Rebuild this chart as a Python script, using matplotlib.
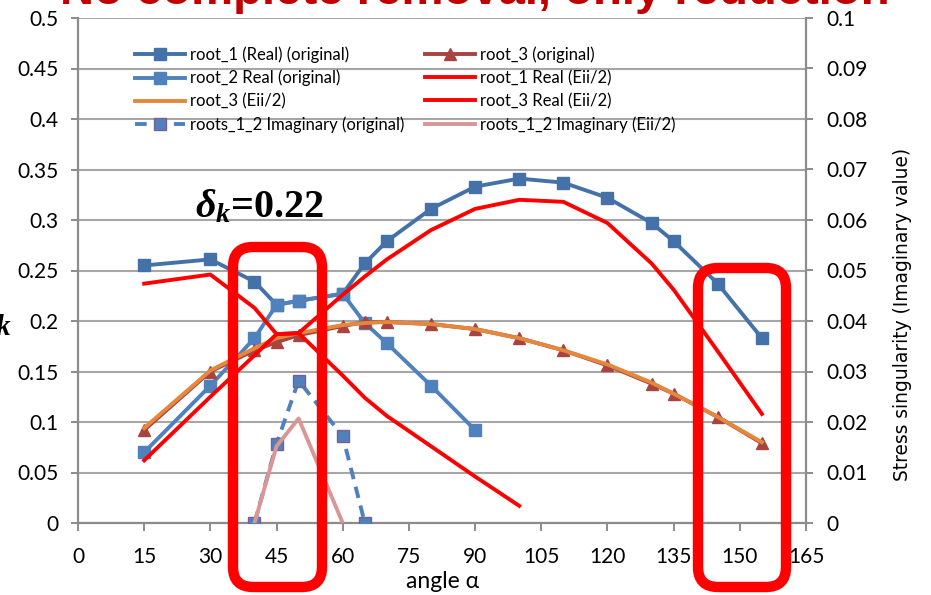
import matplotlib
matplotlib.use('Agg')
import matplotlib.pyplot as plt
from matplotlib.patches import FancyBboxPatch

plt.rcParams['font.family'] = ['Lato', 'DejaVu Sans']
plt.rcParams['mathtext.fontset'] = 'custom'
plt.rcParams['mathtext.it'] = 'Liberation Serif:italic:bold'
plt.rcParams['mathtext.rm'] = 'Liberation Serif:bold'
plt.rcParams['mathtext.bf'] = 'Liberation Serif:bold'

# ---------------- data ----------------
angles = [15, 30, 40, 45, 50, 60, 65, 70, 80, 90, 100, 110, 120, 130, 135, 145, 155]
root1_orig = [0.255, 0.261, 0.239, 0.216, 0.220, 0.227, 0.257, 0.279, 0.311, 0.333,
              0.341, 0.337, 0.322, 0.297, 0.279, 0.237, 0.183]
angles_r2 = [15, 30, 40, 45, 50, 60, 65, 70, 80, 90]
root2_orig = [0.070, 0.136, 0.183, 0.216, 0.220, 0.227, 0.198, 0.178, 0.136, 0.092]
root3_orig = [0.092, 0.150, 0.171, 0.179, 0.186, 0.195, 0.199, 0.199, 0.197, 0.192,
              0.183, 0.171, 0.156, 0.138, 0.128, 0.105, 0.079]
root3_eii = [0.094, 0.151, 0.173, 0.183, 0.188, 0.196, 0.198, 0.199, 0.197, 0.192,
             0.183, 0.171, 0.157, 0.139, 0.128, 0.105, 0.080]
root1_real_eii = [0.237, 0.246, 0.213, 0.187, 0.188, 0.226, 0.244, 0.261, 0.290, 0.311,
                  0.320, 0.318, 0.297, 0.257, 0.231, 0.170, 0.108]
angles_r3r = [15, 30, 40, 45, 50, 60, 65, 70, 80, 90, 100]
root3_real_eii = [0.062, 0.125, 0.166, 0.187, 0.188, 0.146, 0.124, 0.106, 0.076, 0.046, 0.017]
angles_im = [40, 45, 50, 60, 65]
imag_orig = [0.0, 0.0157, 0.0282, 0.0172, 0.0]
angles_im_eii = [40, 45, 50, 60]
imag_eii = [0.0, 0.0152, 0.0207, 0.0]

xticks = [0, 15, 30, 45, 60, 75, 90, 105, 120, 135, 150, 165]
yticks_left = [0, 0.05, 0.1, 0.15, 0.2, 0.25, 0.3, 0.35, 0.4, 0.45, 0.5]
ylabels_left = ['0', '0.05', '0.1', '0.15', '0.2', '0.25', '0.3', '0.35', '0.4', '0.45', '0.5']
yticks_right = [0, 0.01, 0.02, 0.03, 0.04, 0.05, 0.06, 0.07, 0.08, 0.09, 0.1]
ylabels_right = ['0', '0.01', '0.02', '0.03', '0.04', '0.05', '0.06', '0.07', '0.08', '0.09', '0.1']

title = 'No complete removal, only reduction'
annot = r'$\delta_k$=0.22'
xlabel = 'angle α'
ylabel_right = 'Stress singularity (Imaginary value)'

# ---------------- figure ----------------
W, H = 931, 595
fig = plt.figure(figsize=(W / 100, H / 100), dpi=100)
ax = fig.add_axes([78 / W, 1 - 523 / H, (806 - 78) / W, (523 - 18) / H])
ax2 = ax.twinx()

gray = '#8C8C8C'
c_r1 = '#4472A8'
c_r2 = '#4F81BD'
c_r3 = '#A9433F'
c_or = '#E6883C'
c_red = '#FF0000'
c_pink = '#D99694'
lw = 2.8

l1, = ax.plot(angles, root1_orig, color=c_r1, lw=lw, marker='s', ms=8.5, mec=c_r1,
              label='root_1 (Real) (original)', zorder=3)
l2, = ax.plot(angles_r2, root2_orig, color=c_r2, lw=lw, marker='s', ms=8.5, mec=c_r2,
              label='root_2 Real (original)', zorder=3)
l3, = ax.plot(angles, root3_orig, color=c_r3, lw=lw, marker='^', ms=8, mec=c_r3,
              label='root_3 (original)', zorder=3)
l4, = ax.plot(angles, root3_eii, color=c_or, lw=lw, label='root_3 (Eii/2)', zorder=4)
l5, = ax.plot(angles, root1_real_eii, color=c_red, lw=lw, label='root_1 Real (Eii/2)', zorder=4)
l6, = ax.plot(angles_r3r, root3_real_eii, color=c_red, lw=lw, label='root_3 Real (Eii/2)', zorder=4)

l7, = ax2.plot(angles_im, imag_orig, color=c_r2, lw=lw, ls=(0, (3, 2)), marker='s', ms=8.5,
               mfc=c_r2, mec='#7B5E95', mew=1.0, label='roots_1_2 Imaginary (original)', zorder=3)
l8, = ax2.plot(angles_im_eii, imag_eii, color=c_pink, lw=lw, label='roots_1_2 Imaginary (Eii/2)', zorder=3)

ax.set_xlim(0, 165)
ax.set_ylim(0, 0.5)
ax2.set_ylim(0, 0.1)
ax.set_xticks(xticks)
ax.set_xticklabels([str(v) for v in xticks])
ax.set_yticks(yticks_left)
ax.set_yticklabels(ylabels_left)
ax2.set_yticks(yticks_right)
ax2.set_yticklabels(ylabels_right)

ax.yaxis.grid(True, color='#A6A6A6', lw=1.5)
ax.set_axisbelow(True)
for s in ['top', 'right']:
    ax.spines[s].set_visible(False)
for s in ['top', 'left', 'bottom']:
    ax2.spines[s].set_visible(False)
for a in (ax, ax2):
    for s in a.spines.values():
        s.set_color(gray)
        s.set_linewidth(1.6)
ax.tick_params(axis='y', direction='out', length=5, width=1.4, color=gray, labelsize=15, pad=9)
ax.tick_params(axis='x', direction='out', length=6, width=1.4, color=gray, labelsize=15, pad=11)
ax2.tick_params(axis='y', direction='out', length=5, width=1.4, color=gray, labelsize=15, pad=10)

handles = [l1, l2, l4, l7, l3, l5, l6, l8]
leg = ax2.legend(handles=handles, ncol=2, loc='upper left', bbox_to_anchor=(0.078, 0.944),
                 frameon=False, fontsize=12, handlelength=3.0, handletextpad=0.3,
                 columnspacing=1.23, labelspacing=0.42, borderaxespad=0, borderpad=0)

fig.text(443 / W, 1 - 582 / H, xlabel, ha='center', va='center', fontsize=16.5)
fig.text(903 / W, 1 - 314 / H, ylabel_right, ha='center', va='center', rotation=90,
         fontsize=13.4, family='DejaVu Sans')

fig.text(475 / W, 1 - 4.5 / H, title, ha='center', va='baseline', fontsize=34,
         fontweight='bold', color='#C00000', family=['Liberation Sans', 'DejaVu Sans'])
fig.text(195 / W, 1 - 217 / H, annot, ha='left', va='baseline', fontsize=29,
         family='Liberation Serif', fontweight='bold')
fig.text(12 / W, 1 - 330 / H, r'$\delta_k$', ha='right', va='baseline', fontsize=30)

# red highlight boxes (in pixel units via inches)
for (x0, x1, y0, y1) in [(233, 322, 247, 587), (698, 786, 268, 587)]:
    box = FancyBboxPatch((x0 / 100, (H - y1) / 100), (x1 - x0) / 100, (y1 - y0) / 100,
                         boxstyle='round,pad=0,rounding_size=0.2',
                         transform=fig.dpi_scale_trans, fill=False,
                         edgecolor=c_red, lw=7.5, zorder=10, clip_on=False)
    fig.add_artist(box)

fig.savefig('out.png', dpi=100)
